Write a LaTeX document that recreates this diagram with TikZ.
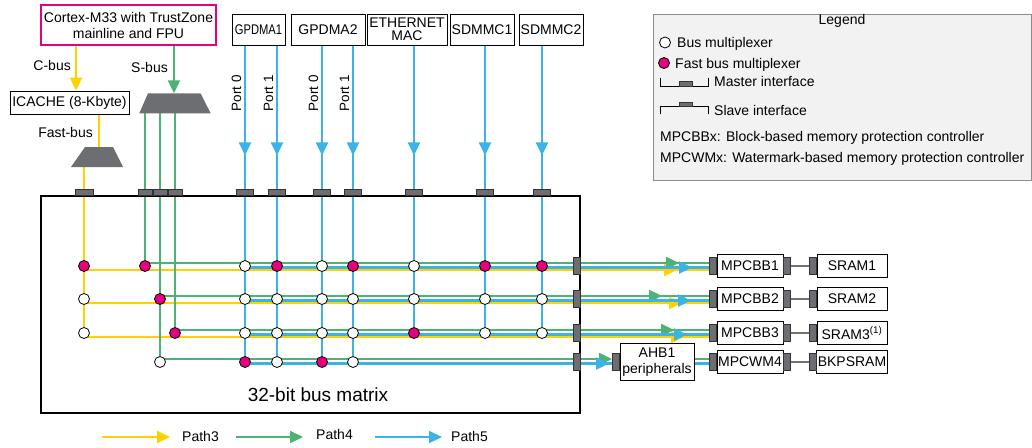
\documentclass[tikz,border=0pt]{standalone}
\usepackage{graphicx}
\usepackage{fontspec}
\setmainfont{Liberation Sans}
\usetikzlibrary{positioning,calc,arrows.meta,decorations.markings}
\pgfdeclarelayer{background}
\pgfsetlayers{background,main}

\definecolor{pathyellow}{HTML}{FFD100}
\definecolor{pathgreen}{HTML}{4CB275}
\definecolor{pathblue}{HTML}{3BB3E5}
\definecolor{fastmux}{HTML}{E5007E}
\definecolor{ifgray}{HTML}{6D6E71}

\begin{document}
\begin{tikzpicture}[x=1pt, y=-1pt, font=\fontsize{14}{16}\selectfont,
  box/.style={draw=black, line width=0.9pt, fill=white, inner sep=1pt, align=center, minimum height=23pt},
  bus/.style={line width=2.2pt},
  ybus/.style={bus, draw=pathyellow},
  gbus/.style={bus, draw=pathgreen},
  bbus/.style={bus, draw=pathblue},
  tip/.style={-{Triangle[length=13pt,width=12pt]}},
  tipat/.style={postaction={decorate, decoration={markings,
      mark=at position #1 with {\arrow{Triangle[length=13pt,width=12pt]}}}}},
  muxw/.style={circle, draw=black, line width=0.8pt, fill=white, minimum size=11pt, inner sep=0pt},
  muxf/.style={muxw, fill=fastmux},
  sif/.style={draw=black!80, fill=ifgray, line width=0.5pt, minimum width=17pt, minimum height=6pt, inner sep=0pt},
  mif/.style={sif, minimum width=7pt, minimum height=17pt},
  link/.style={draw=black!55, line width=1.4pt},
  portlbl/.style={rotate=90, anchor=south, inner xsep=0pt, inner ysep=3.5pt, font=\fontsize{13.5}{14}\selectfont},
  lbl/.style={anchor=base west, inner sep=0pt}]
\useasboundingbox (0,0) rectangle (1032,447);

% grid of the bus matrix
\foreach \n/\x in {y/84,g1/145,g2/160,g3/175,1/245,2/277,3/322,4/353,5/414,6/485,7/542}
  \coordinate (col\n) at (\x,0);
\foreach \r/\y in {1/266,2/299,3/333,4/362}
  \coordinate (row\r) at (0,\y);
\coordinate (cbus) at (76,0);
\coordinate (sbus) at (174,0);
\coordinate (portrow) at (0,93);
\coordinate (colahb) at (657,0);
\coordinate (colmpc) at (750,0);
\coordinate (colmem) at (852,0);

% masters
\node[box, draw=fastmux, line width=1.6pt, minimum width=175pt, minimum height=40pt] (cortex) at (128.5,25) {Cortex-M33 with TrustZone\\mainline and FPU};
\node[box, minimum width=119pt] (icache) at (69.5,102.5) {ICACHE (8-Kbyte)};
\node[box, minimum width=53pt, minimum height=31pt] (gpdma1) at (258.5,29.5) {\scalebox{0.8}[1]{GPDMA1}};
\node[box, minimum width=74pt, minimum height=31pt] (gpdma2) at (328,29.5) {GPDMA2};
\node[box, minimum width=80pt, minimum height=31pt, font=\fontsize{14}{13.5}\selectfont] (eth) at (407,29.5) {ETHERNET\\MAC};
\node[box, minimum width=64pt, minimum height=31pt] (sdmmc1) at (482,29.5) {SDMMC1};
\node[box, minimum width=64pt, minimum height=31pt] (sdmmc2) at (551,29.5) {SDMMC2};

\node[anchor=base east, inner sep=0pt] (cbuslbl) at (71,70) {C-bus};
\node[anchor=base east, inner sep=0pt] (sbuslbl) at (168,72.5) {S-bus};
\node[anchor=base east, inner sep=0pt] (fbuslbl) at (93,137) {Fast-bus};
\node[portlbl] (dma1p0) at (col1 |- portrow) {Port 0};
\node[portlbl] (dma1p1) at (col2 |- portrow) {Port 1};
\node[portlbl] (dma2p0) at (col3 |- portrow) {Port 0};
\node[portlbl] (dma2p1) at (col4 |- portrow) {Port 1};

% input multiplexers
\fill[ifgray] (71,167) -- (85,147) -- (113,147) -- (123,167) -- cycle;
\coordinate (fmuxn) at (99,147);
\coordinate (fmuxs) at (84,167);
\fill[ifgray] (139.3,113.3) -- (148,93.3) -- (200.5,93.3) -- (210.7,113.3) -- cycle;
\coordinate (smuxn) at (174,93.3);
\coordinate (smuxs) at (175,113.3);

% bus matrix
\node[draw, line width=1.6pt, minimum width=539pt, minimum height=217pt, inner sep=0pt] (busmx) at (310.5,304.5) {};
\node[font=\fontsize{19}{20}\selectfont] (busmxlbl) at (318,395) {32-bit bus matrix};

\node[muxf] (my1) at (coly |- row1) {};
\node[muxw] (my2) at (coly |- row2) {};
\node[muxw] (my3) at (coly |- row3) {};
\node[muxf] (mg1) at (colg1 |- row1) {};
\node[muxf] (mg2) at (colg2 |- row2) {};
\node[muxf] (mg3) at (colg3 |- row3) {};
\node[muxw] (mg4) at (colg2 |- row4) {};
\foreach \r/\types in {1/{w,f,w,f,w,f,f}, 2/{w,w,w,w,w,w,w}, 3/{w,w,w,w,f,w,w}, 4/{f,w,f,w}}
  \foreach \t [count=\c] in \types
    \node[mux\t] (b\r\c) at (col\c |- row\r) {};

% slave and master interfaces of the matrix
\foreach \n/\w in {y/18pt,g1/14pt,g2/14pt,g3/14pt,1/17pt,2/17pt,3/17pt,4/17pt,5/17pt,6/17pt,7/17pt}
  \node[sif, minimum width=\w, anchor=south] (s\n) at (col\n |- busmx.north) {};
\foreach \r in {1,...,4}
  \node[mif, anchor=east] (mx\r) at (busmx.east |- row\r) {};

% slaves
\node[box, minimum width=74pt, minimum height=37pt] (ahb1) at (colahb |- row4) {AHB1\\peripherals};
\node[mif, anchor=east] (ahbin) at (ahb1.west) {};
\foreach \r/\mpc/\mem in {1/MPCBB1/SRAM1, 2/MPCBB2/SRAM2, 3/MPCBB3/SRAM3\textsuperscript{(1)}, 4/MPCWM4/BKPSRAM} {
  \node[box, minimum width=66pt] (mpc\r) at (colmpc |- row\r) {\mpc};
  \node[mif, anchor=east] (mpcin\r) at (mpc\r.west) {};
  \node[mif, anchor=west] (mpcout\r) at (mpc\r.east) {};
  \node[box, minimum width=70pt] (mem\r) at (colmem |- row\r) {\mem};
  \node[mif, anchor=east] (memin\r) at (mem\r.west) {};
  \draw[link] (mpcout\r) -- (memin\r);
}

\begin{pgfonlayer}{background}
% Path3
\draw[ybus, tip] (cbus |- cortex.south) -- (cbus |- icache.north);
\draw[ybus] (icache.south -| fmuxn) -- (fmuxn);
\draw[ybus] (fmuxs) -- (my3);
\foreach \r/\p in {1/-32pt, 2/-27pt, 3/-25pt}
  \draw[ybus, tipat=\p] ([yshift=-4pt]my\r.center) -- ([yshift=-4pt]mpcin\r.west);
% Path4
\draw[gbus, tip] (sbus |- cortex.south) -- (smuxn);
\draw[gbus] (colg1 |- smuxs) -- (mg1);
\draw[gbus] (colg2 |- smuxs) -- (mg4);
\draw[gbus] (colg3 |- smuxs) -- (mg3);
\foreach \r/\p in {1/-30pt, 2/-47pt, 3/-35pt}
  \draw[gbus, tipat=\p] ([yshift=3pt]mg\r.center) -- ([yshift=3pt]mpcin\r.west);
\draw[gbus, tip] ([yshift=3pt]mg4.center) -- ([yshift=3pt]ahbin.west);
\draw[gbus] ([yshift=3pt]ahb1.east) -- ([yshift=3pt]mpcin4.west);
% Path5
\foreach \c/\src/\r in {1/gpdma1/4, 2/gpdma1/4, 3/gpdma2/4, 4/gpdma2/4, 5/eth/3, 6/sdmmc1/3, 7/sdmmc2/3}
  \draw[bbus, tipat=110pt] (col\c |- \src.south) -- (b\r\c);
\foreach \r/\p in {1/-17pt, 2/-18pt, 3/-22pt}
  \draw[bbus, tipat=\p] ([yshift=-1.5pt]b\r1.center) -- ([yshift=-1.5pt]mpcin\r.west);
\draw[bbus, tipat=-3pt] ([yshift=-1.5pt]b41.center) -- ([yshift=-1.5pt]ahbin.west);
\draw[bbus] ([yshift=-1.5pt]ahb1.east) -- ([yshift=-1.5pt]mpcin4.west);
\end{pgfonlayer}

% legend
\node[draw=black!45, fill=black!5, line width=0.8pt, minimum width=378pt, minimum height=166pt, inner sep=0pt, anchor=north west] (legend) at (653,14) {};
\node (legtitle) at (842,21) {Legend};
\node[muxw] (legbus) at (665,42.5) {};
\node[lbl] (legbustxt) at (677,47.5) {Bus multiplexer};
\node[muxf] (legfast) at (664,63) {};
\node[lbl] (legfasttxt) at (675,68) {Fast bus multiplexer};
\draw[line width=0.9pt] (660,78) -- (660,86) -- (708,86) -- (708,78);
\node[sif, minimum width=13pt, minimum height=4.5pt, anchor=south] (legmif) at (685.5,86) {};
\node[lbl] (legmiftxt) at (714,86) {Master interface};
\draw[line width=0.9pt] (660,114) -- (660,106.5) -- (708,106.5) -- (708,114);
\node[sif, minimum width=13pt, minimum height=4.5pt, anchor=south] (legsif) at (685.5,106.5) {};
\node[lbl] (legsiftxt) at (714,115) {Slave interface};
\node[lbl] (legmpcbb) at (660,141.5) {MPCBBx: Block-based memory protection controller};
\node[lbl] (legmpcwm) at (660,162) {MPCWMx: Watermark-based memory protection controller};

% paths
\node[lbl] (path3) at (182,441) {Path3};
\node[lbl] (path4) at (316,439) {Path4};
\node[lbl] (path5) at (451,441) {Path5};
\draw[ybus, tip] ([xshift=-80pt,yshift=4pt]path3.base west) -- ([xshift=-12pt,yshift=4pt]path3.base west);
\draw[gbus, tip] ([xshift=-80pt,yshift=2pt]path4.base west) -- ([xshift=-13pt,yshift=2pt]path4.base west);
\draw[bbus, tip] ([xshift=-76pt,yshift=4pt]path5.base west) -- ([xshift=-9pt,yshift=4pt]path5.base west);
\end{tikzpicture}
\end{document}
